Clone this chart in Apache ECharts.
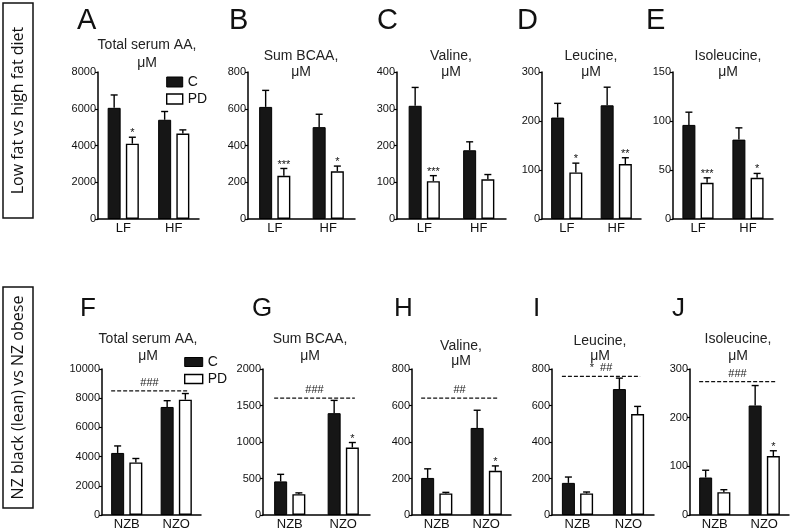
<!DOCTYPE html>
<html><head><meta charset="utf-8">
<script src="https://cdn.jsdelivr.net/npm/echarts@6/dist/echarts.min.js"></script>
<style>html,body{margin:0;padding:0;background:#fff}#c{width:790px;height:531px}</style>
</head><body><div id="c"></div>
<script>
// ---------- data ----------
const catsTop = ['LF', 'HF'];
const catsBottom = ['NZB', 'NZO'];
const panelLetters = ['A', 'B', 'C', 'D', 'E', 'F', 'G', 'H', 'I', 'J'];
const panelTitleLine1 = ['Total serum AA,', 'Sum BCAA,', 'Valine,', 'Leucine,', 'Isoleucine,',
                         'Total serum AA,', 'Sum BCAA,', 'Valine,', 'Leucine,', 'Isoleucine,'];
const panelTitleLine2 = 'μM';
const yMax  = [8000, 800, 400, 300, 150, 10000, 2000, 800, 800, 300];
const yStep = [2000, 200, 100, 100, 50, 2000, 500, 200, 200, 100];
const seriesNames = ['C', 'PD'];

// Low fat vs high fat diet (LF, HF)
const aC = [6050, 5400], aCsem = [700, 450], aPD = [4100, 4650], aPDsem = [350, 200], aSig = ['*', ''];
const bC = [610, 500],   bCsem = [90, 70],   bPD = [235, 260],   bPDsem = [40, 28],   bSig = ['***', '*'];
const cC = [308, 187],   cCsem = [50, 23],   cPD = [103, 108],   cPDsem = [15, 13],   cSig = ['***', ''];
const dC = [207, 232],   dCsem = [29, 37],   dPD = [95, 112],    dPDsem = [19, 13],   dSig = ['*', '**'];
const eC = [96, 81],     eCsem = [13, 12],   ePD = [37, 42],     ePDsem = [5, 4.5],   eSig = ['***', '*'];
// NZ black (lean) vs NZ obese (NZB, NZO)
const fC = [4250, 7400], fCsem = [480, 430], fPD = [3600, 7900], fPDsem = [270, 420], fSig = ['', ''];
const gC = [460, 1395],  gCsem = [97, 175],  gPD = [285, 925],   gPDsem = [18, 68],   gSig = ['', '*'];
const hC = [203, 477],   hCsem = [50, 97],   hPD = [118, 242],   hPDsem = [6, 27],    hSig = ['', '*'];
const iC = [176, 690],   iCsem = [32, 60],   iPD = [118, 553],   iPDsem = [8, 42],    iSig = ['', ''];
const jC = [77, 225],    jCsem = [15, 41],   jPD = [47, 121],    jPDsem = [5, 11],    jSig = ['', '*'];
// strain comparison lines (bottom row F..J)
const strainLineValue = [8500, 1600, 640, 760, 274];
const strainLineLabel = ['###', '###', '##', '*  ##', '###'];

// ---------- layout / style ----------
const FONT = '"Liberation Sans", Arial, Helvetica, sans-serif';
const BAR_W = 13, GAP_RATIO = 0.4;
const gridLeft  = [98, 248, 397, 542, 673, 102, 263, 412, 552, 690];
const gridWidth = [101, 107, 109, 99, 100, 99, 107, 99, 102, 99];
const rowTop = [72, 369], rowHeight = [147, 148];
const letterX = [77, 229, 377, 517, 646, 80, 252, 394, 533, 672];
const letterY = [21, 21, 21, 21, 21, 309, 309, 309, 309, 309];
const letterSize = [29, 29, 29, 29, 29, 26, 26, 26, 26, 26];
const titleX  = [147, 301, 451, 591, 728, 148, 310, 461, 600, 738];
const titleY1 = [45, 56, 56, 56, 56, 339, 339, 346, 341, 339];
const titleY2 = [63, 72, 72, 72, 72, 356, 356, 361, 356, 356];

const ctrlMeans = [aC, bC, cC, dC, eC, fC, gC, hC, iC, jC];
const ctrlSems  = [aCsem, bCsem, cCsem, dCsem, eCsem, fCsem, gCsem, hCsem, iCsem, jCsem];
const pdMeans   = [aPD, bPD, cPD, dPD, ePD, fPD, gPD, hPD, iPD, jPD];
const pdSems    = [aPDsem, bPDsem, cPDsem, dPDsem, ePDsem, fPDsem, gPDsem, hPDsem, iPDsem, jPDsem];
const pdSigs    = [aSig, bSig, cSig, dSig, eSig, fSig, gSig, hSig, iSig, jSig];

function errRender(side, sig) {
  return function (params, api) {
    const cat = api.value(0), m = api.value(1), t = api.value(2);
    const pm = api.coord([cat, m]), pt = api.coord([cat, t]);
    const x = pm[0] + side * BAR_W * (1 + GAP_RATIO) / 2;
    const st = { stroke: '#000', lineWidth: 1.4 };
    const children = [
      { type: 'line', shape: { x1: x, y1: pm[1], x2: x, y2: pt[1] }, style: st },
      { type: 'line', shape: { x1: x - 3.5, y1: pt[1], x2: x + 3.5, y2: pt[1] }, style: st }
    ];
    const s = sig ? sig[params.dataIndex] : '';
    if (s) children.push({ type: 'text', x: x, y: pt[1] - 4,
      style: { text: s, font: '11px ' + FONT, fill: '#111', align: 'center', verticalAlign: 'middle' } });
    return { type: 'group', children: children };
  };
}
function lineRender(label) {
  return function (params, api) {
    const y = api.value(1);
    const p0 = api.coord([0, y]), p1 = api.coord([1, y]);
    const half = BAR_W * (1 + GAP_RATIO / 2);
    const x1 = p0[0] - half, x2 = p1[0] + half - 4;
    return { type: 'group', children: [
      { type: 'line', shape: { x1: x1, y1: p0[1], x2: x2, y2: p0[1] },
        style: { stroke: '#111', lineWidth: 1.2, lineDash: [4, 2] } },
      { type: 'text', x: (x1 + x2) / 2, y: p0[1] - 8,
        style: { text: label, font: '11px ' + FONT, fill: '#222', align: 'center', verticalAlign: 'middle' } }
    ] };
  };
}

const grids = [], xAxes = [], yAxes = [], series = [], graphics = [];
for (let i = 0; i < 10; i++) {
  const row = i < 5 ? 0 : 1;
  grids.push({ left: gridLeft[i], width: gridWidth[i], top: rowTop[row], height: rowHeight[row] });
  xAxes.push({ type: 'category', gridIndex: i, data: row ? catsBottom : catsTop,
    axisLine: { lineStyle: { color: '#000', width: 1.5 } }, axisTick: { show: false },
    axisLabel: { color: '#111', fontSize: 13, fontFamily: FONT, margin: 3 } });
  yAxes.push({ type: 'value', gridIndex: i, min: 0, max: yMax[i], interval: yStep[i],
    axisLine: { show: true, lineStyle: { color: '#000', width: 1.5 } },
    axisTick: { show: true, length: 3, lineStyle: { color: '#000', width: 1.2 } },
    axisLabel: { color: '#111', fontSize: 11, fontFamily: FONT, margin: 2, formatter: v => String(v) },
    splitLine: { show: false } });
  series.push({ name: seriesNames[0], type: 'bar', xAxisIndex: i, yAxisIndex: i, data: ctrlMeans[i],
    barWidth: BAR_W, barGap: (GAP_RATIO * 100) + '%', silent: true,
    itemStyle: { color: '#161616', borderColor: '#000', borderWidth: 1 } });
  series.push({ name: seriesNames[1], type: 'bar', xAxisIndex: i, yAxisIndex: i, data: pdMeans[i],
    barWidth: BAR_W, barGap: (GAP_RATIO * 100) + '%', silent: true,
    itemStyle: { color: '#fff', borderColor: '#000', borderWidth: 1.4 } });
  series.push({ type: 'custom', xAxisIndex: i, yAxisIndex: i, z: 5, silent: true,
    renderItem: errRender(-1, null),
    data: ctrlMeans[i].map((v, k) => [k, v, v + ctrlSems[i][k]]) });
  series.push({ type: 'custom', xAxisIndex: i, yAxisIndex: i, z: 5, silent: true,
    renderItem: errRender(1, pdSigs[i]),
    data: pdMeans[i].map((v, k) => [k, v, v + pdSems[i][k]]) });
  if (row === 1) {
    series.push({ type: 'custom', xAxisIndex: i, yAxisIndex: i, z: 6, silent: true,
      renderItem: lineRender(strainLineLabel[i - 5]), data: [[0, strainLineValue[i - 5]]] });
  }
  graphics.push({ type: 'text', x: letterX[i], y: letterY[i],
    style: { text: panelLetters[i], font: letterSize[i] + 'px ' + FONT, fill: '#111', align: 'left', verticalAlign: 'middle' } });
  graphics.push({ type: 'text', x: titleX[i], y: titleY1[i],
    style: { text: panelTitleLine1[i], font: '14px ' + FONT, fill: '#222', align: 'center', verticalAlign: 'middle' } });
  graphics.push({ type: 'text', x: titleX[i], y: titleY2[i],
    style: { text: panelTitleLine2, font: '14px ' + FONT, fill: '#222', align: 'center', verticalAlign: 'middle' } });
}
// row label boxes
graphics.push({ type: 'rect', shape: { x: 3, y: 3, width: 30, height: 215 }, style: { fill: 'none', stroke: '#111', lineWidth: 1.5 } });
graphics.push({ type: 'text', x: 18, y: 110.5, rotation: Math.PI / 2,
  style: { text: 'Low fat vs high fat diet', font: '16px "Open Sans"', fill: '#111', align: 'center', verticalAlign: 'middle' } });
graphics.push({ type: 'rect', shape: { x: 3, y: 287, width: 30, height: 221 }, style: { fill: 'none', stroke: '#111', lineWidth: 1.5 } });
graphics.push({ type: 'text', x: 18, y: 397.5, rotation: Math.PI / 2,
  style: { text: 'NZ black (lean) vs NZ obese', font: '16px "Open Sans"', fill: '#111', align: 'center', verticalAlign: 'middle' } });

const legendData = [
  { name: 'C', icon: 'rect', itemStyle: { color: '#161616', borderColor: '#000', borderWidth: 1 } },
  { name: 'PD', icon: 'rect', itemStyle: { color: '#fff', borderColor: '#000', borderWidth: 1.4 } }
];
const chart = echarts.init(document.getElementById('c'), null, { renderer: 'canvas' });
chart.setOption({
  animation: false,
  backgroundColor: '#fff',
  legend: [
    { data: legendData, orient: 'vertical', left: 166, top: 75, padding: 0, itemWidth: 16, itemHeight: 10, itemGap: 3,
      selectedMode: false, textStyle: { fontSize: 14, fontFamily: FONT, color: '#111', lineHeight: 12 } },
    { data: legendData, orient: 'vertical', left: 184, top: 355, padding: 0, itemWidth: 18, itemHeight: 9, itemGap: 3,
      selectedMode: false, textStyle: { fontSize: 14, fontFamily: FONT, color: '#111', lineHeight: 12 } }
  ],
  grid: grids, xAxis: xAxes, yAxis: yAxes, series: series, graphic: graphics
});
</script></body></html>
